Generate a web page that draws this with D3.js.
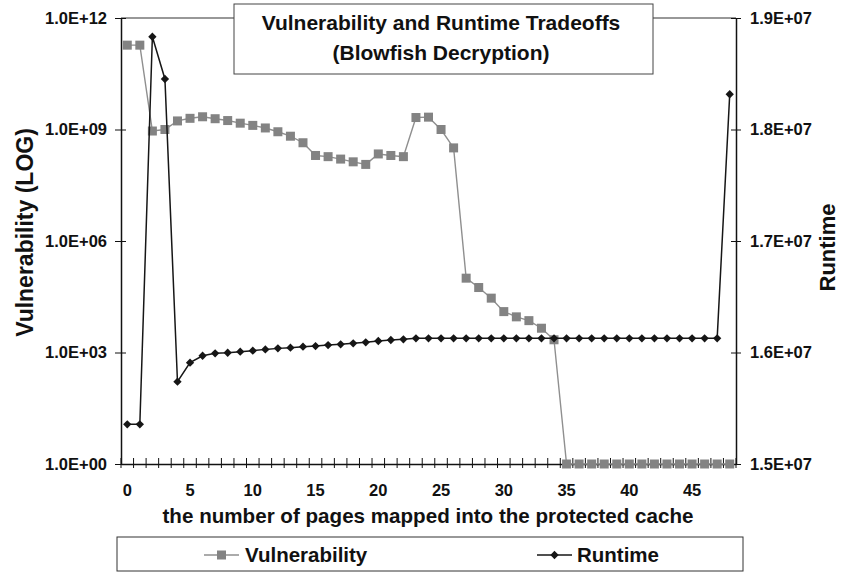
<!DOCTYPE html>
<html>
<head>
<meta charset="utf-8">
<script src="https://cdn.jsdelivr.net/npm/d3@7"></script>
<style>
  body { margin: 0; background: #fff; }
  svg { display: block; font-family: "Liberation Sans", Arial, sans-serif; font-weight: bold; }
</style>
</head>
<body>
<svg id="chart" width="841" height="572"></svg>
<script>
const pages = [0, 1, 2, 3, 4, 5, 6, 7, 8, 9, 10, 11, 12, 13, 14, 15, 16, 17, 18, 19, 20, 21, 22, 23, 24,
  25, 26, 27, 28, 29, 30, 31, 32, 33, 34, 35, 36, 37, 38, 39, 40, 41, 42, 43, 44, 45, 46, 47, 48];

const vulnerability = [1.86e11, 1.86e11, 9.1e8, 1.0e9, 1.7e9, 2.0e9, 2.2e9, 1.95e9, 1.74e9, 1.48e9,
  1.29e9, 1.1e9, 8.7e8, 6.6e8, 4.4e8, 2.0e8, 1.86e8, 1.6e8, 1.35e8, 1.15e8,
  2.2e8, 2.0e8, 1.86e8, 2.1e9, 2.15e9, 1.0e9, 3.2e8, 1.0e5, 5.6e4, 2.9e4,
  1.26e4, 9.1e3, 7.2e3, 4.5e3, 2.2e3, 1, 1, 1, 1, 1,
  1, 1, 1, 1, 1, 1, 1, 1, 1];

const runtime = [1.5356e7, 1.5356e7, 1.8832e7, 1.8453e7, 1.5738e7, 1.5909e7, 1.5971e7, 1.5993e7, 1.5998e7, 1.6007e7,
  1.6016e7, 1.6028e7, 1.6037e7, 1.6043e7, 1.6052e7, 1.6058e7, 1.6067e7, 1.6073e7, 1.6082e7, 1.6091e7,
  1.6103e7, 1.6112e7, 1.6118e7, 1.6127e7, 1.6127e7, 1.6127e7, 1.6127e7, 1.6127e7, 1.6127e7, 1.6127e7,
  1.6127e7, 1.6127e7, 1.6127e7, 1.6127e7, 1.6127e7, 1.6127e7, 1.6127e7, 1.6127e7, 1.6127e7, 1.6127e7,
  1.6127e7, 1.6127e7, 1.6127e7, 1.6127e7, 1.6127e7, 1.6127e7, 1.6127e7, 1.6127e7, 1.8316e7];

const xTickLabels = [0, 5, 10, 15, 20, 25, 30, 35, 40, 45];
const leftTicks = [1, 1e3, 1e6, 1e9, 1e12];
const leftTickLabels = ['1.0E+00', '1.0E+03', '1.0E+06', '1.0E+09', '1.0E+12'];
const rightTicks = [1.5e7, 1.6e7, 1.7e7, 1.8e7, 1.9e7];
const rightTickLabels = ['1.5E+07', '1.6E+07', '1.7E+07', '1.8E+07', '1.9E+07'];

const svg = d3.select('#chart');
const plot = { left: 121, right: 736, top: 18, bottom: 464 };

const x = d3.scaleBand()
  .domain(pages)
  .range([plot.left, plot.right]);
const cx = d => x(d) + x.bandwidth() / 2;

const yLeft = d3.scaleLog()
  .domain([1, 1e12])
  .range([plot.bottom, plot.top]);

const yRight = d3.scaleLinear()
  .domain([1.5e7, 1.9e7])
  .range([plot.bottom, plot.top]);

// top border of plot area
svg.append('line')
  .attr('x1', plot.left).attr('x2', plot.right)
  .attr('y1', plot.top).attr('y2', plot.top)
  .attr('stroke', '#333').attr('stroke-width', 1.2);

// x axis
const gx = svg.append('g')
  .attr('transform', `translate(0,${plot.bottom})`)
  .call(d3.axisBottom(x).tickValues(xTickLabels).tickSize(0).tickPadding(19));
gx.select('.domain').attr('stroke', '#111').attr('stroke-width', 1.5);
gx.selectAll('text').attr('font-size', 16.5).attr('fill', '#111').attr('font-family', null)
  .attr('y', 20);
// ticks between categories
gx.selectAll('line.sep')
  .data(pages.concat([pages.length]))
  .enter().append('line')
  .attr('class', 'sep')
  .attr('x1', (d, i) => plot.left + i * x.bandwidth())
  .attr('x2', (d, i) => plot.left + i * x.bandwidth())
  .attr('y1', -6).attr('y2', 4)
  .attr('stroke', '#111').attr('stroke-width', 1);

// left axis
const gl = svg.append('g')
  .attr('transform', `translate(${plot.left},0)`)
  .call(d3.axisLeft(yLeft).tickValues(leftTicks)
    .tickFormat((d, i) => leftTickLabels[i]).tickSize(6).tickSizeOuter(0));
gl.select('.domain').attr('stroke', '#111').attr('stroke-width', 1.5);
gl.selectAll('.tick line').attr('x1', 5).attr('stroke', '#111');
gl.selectAll('text').attr('font-size', 16.5).attr('fill', '#111').attr('font-family', null)
  .attr('x', -14);

// right axis
const gr = svg.append('g')
  .attr('transform', `translate(${plot.right},0)`)
  .call(d3.axisRight(yRight).tickValues(rightTicks)
    .tickFormat((d, i) => rightTickLabels[i]).tickSize(5).tickSizeOuter(0));
gr.select('.domain').attr('stroke', '#111').attr('stroke-width', 1.5);
gr.selectAll('.tick line').attr('x1', -5).attr('stroke', '#111');
gr.selectAll('text').attr('font-size', 16.5).attr('fill', '#111').attr('font-family', null)
  .attr('x', 14);

// vulnerability series
const vLine = d3.line()
  .x((d, i) => cx(pages[i]))
  .y(d => yLeft(d));
svg.append('path')
  .datum(vulnerability)
  .attr('d', vLine)
  .attr('fill', 'none')
  .attr('stroke', '#8f8f8f')
  .attr('stroke-width', 1.4);
svg.selectAll('rect.vmark')
  .data(vulnerability)
  .enter().append('rect')
  .attr('class', 'vmark')
  .attr('x', (d, i) => cx(pages[i]) - 4.5)
  .attr('y', d => yLeft(d) - 4.5)
  .attr('width', 9).attr('height', 9)
  .attr('fill', '#838383');

// runtime series
const rLine = d3.line()
  .x((d, i) => cx(pages[i]))
  .y(d => yRight(d));
svg.append('path')
  .datum(runtime)
  .attr('d', rLine)
  .attr('fill', 'none')
  .attr('stroke', '#161616')
  .attr('stroke-width', 1.5);
const diamond = d3.symbol().type(d3.symbolDiamond2).size(44);
svg.selectAll('path.rmark')
  .data(runtime)
  .enter().append('path')
  .attr('class', 'rmark')
  .attr('d', diamond)
  .attr('transform', (d, i) => `translate(${cx(pages[i])},${yRight(d)})`)
  .attr('fill', '#161616');

// title box
svg.append('rect')
  .attr('x', 234).attr('y', 4).attr('width', 419).attr('height', 70)
  .attr('fill', '#fff').attr('stroke', '#444').attr('stroke-width', 1);
svg.append('text')
  .attr('x', 441).attr('y', 29.5).attr('text-anchor', 'middle')
  .attr('font-size', 21).attr('fill', '#111')
  .text('Vulnerability and Runtime Tradeoffs');
svg.append('text')
  .attr('x', 441).attr('y', 59.5).attr('text-anchor', 'middle')
  .attr('font-size', 21).attr('fill', '#111')
  .text('(Blowfish Decryption)');

// axis titles
svg.append('text')
  .attr('transform', 'translate(33,232.5) rotate(-90)')
  .attr('text-anchor', 'middle')
  .attr('font-size', 23).attr('fill', '#111')
  .text('Vulnerability (LOG)');
svg.append('text')
  .attr('transform', 'translate(835,247.5) rotate(-90)')
  .attr('text-anchor', 'middle')
  .attr('font-size', 22).attr('fill', '#111')
  .text('Runtime');
svg.append('text')
  .attr('x', 428).attr('y', 523).attr('text-anchor', 'middle')
  .attr('font-size', 20.6).attr('fill', '#111')
  .text('the number of pages mapped into the protected cache');

// legend
svg.append('rect')
  .attr('x', 117).attr('y', 537).attr('width', 626).attr('height', 34)
  .attr('fill', '#fff').attr('stroke', '#333').attr('stroke-width', 1);
const legend = [
  { name: 'Vulnerability', x: 204, color: '#8f8f8f', mark: 'square' },
  { name: 'Runtime', x: 537, color: '#161616', mark: 'diamond' },
];
const lg = svg.selectAll('g.legend')
  .data(legend)
  .enter().append('g')
  .attr('class', 'legend')
  .attr('transform', d => `translate(${d.x},555)`);
lg.append('line')
  .attr('x1', 0).attr('x2', 35)
  .attr('stroke', d => d.color).attr('stroke-width', 1.5);
lg.filter(d => d.mark === 'square').append('rect')
  .attr('x', 13).attr('y', -4.5).attr('width', 9).attr('height', 9)
  .attr('fill', '#838383');
lg.filter(d => d.mark === 'diamond').append('path')
  .attr('d', diamond)
  .attr('transform', 'translate(17.5,0)')
  .attr('fill', '#161616');
lg.append('text')
  .attr('x', d => d.mark === 'square' ? 41 : 40).attr('y', 7)
  .attr('font-size', 20.5).attr('fill', '#111')
  .text(d => d.name);
</script>
</body>
</html>
